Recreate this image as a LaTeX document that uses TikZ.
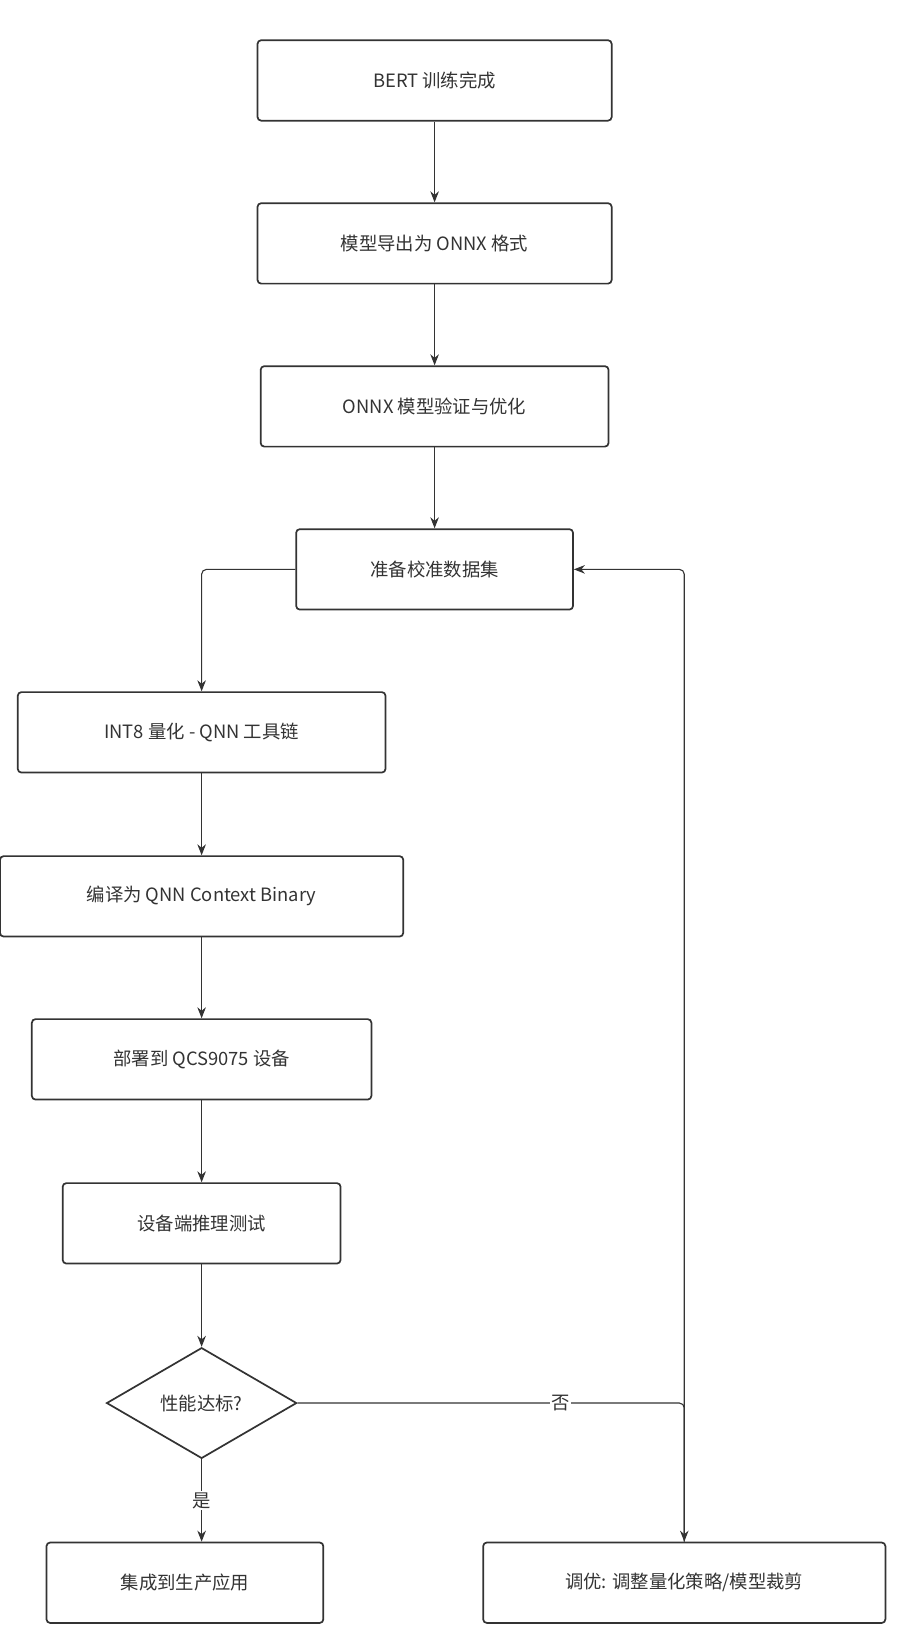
\documentclass[tikz,border=0pt]{standalone}
\usepackage{fontspec}
\setmainfont{Noto Sans CJK SC}
\usetikzlibrary{shapes.geometric,arrows.meta,positioning}
\definecolor{linegray}{HTML}{333333}
\begin{document}
\begin{tikzpicture}[x=0.03cm,y=-0.03cm,
  box/.style={draw=linegray, line width=1.4pt, rounded corners=3pt, minimum height=2.31cm, text=linegray, font=\fontsize{15}{18}\selectfont},
  decision/.style={draw=linegray, line width=1.4pt, diamond, aspect=1.72, minimum width=5.46cm, minimum height=3.18cm, inner sep=0pt, text=linegray, font=\fontsize{15}{18}\selectfont},
  flow/.style={draw=linegray, line width=0.9pt, rounded corners=4pt, -{Stealth[length=9pt,width=7pt]}},
  lbl/.style={fill=white, text=linegray, inner sep=1pt, font=\fontsize{15}{18}\selectfont}]
  \node[box, minimum width=10.17cm] (bert) at (416,77) {BERT 训练完成};
  \node[box, minimum width=10.17cm] (export) at (416,233) {模型导出为 ONNX 格式};
  \node[box, minimum width=9.99cm] (verify) at (416,389) {ONNX 模型验证与优化};
  \node[box, minimum width=7.95cm] (calib) at (416,545) {准备校准数据集};
  \node[box, minimum width=10.56cm] (quant) at (193,701) {INT8 量化 - QNN 工具链};
  \node[box, minimum width=11.58cm] (compile) at (193,858) {编译为 QNN Context Binary};
  \node[box, minimum width=9.75cm] (deploy) at (193,1014) {部署到 QCS9075 设备};
  \node[box, minimum width=7.98cm] (test) at (193,1171) {设备端推理测试};
  \node[decision] (check) at (193,1343) {性能达标?};
  \node[box, minimum width=7.95cm] (prod) at (177,1515) {集成到生产应用};
  \node[box, minimum width=11.55cm] (tune) at (655,1515) {调优: 调整量化策略/模型裁剪};
  \coordinate (calibleft) at (193,545);
  \coordinate (tuneup) at (655,545);
  \coordinate (nocorner) at (655,1343);

  \draw[flow] (bert) -- (export);
  \draw[flow] (export) -- (verify);
  \draw[flow] (verify) -- (calib);
  \draw[flow] (calib.west) -- (calibleft) -- (quant);
  \draw[flow] (quant) -- (compile);
  \draw[flow] (compile) -- (deploy);
  \draw[flow] (deploy) -- (test);
  \draw[flow] (test) -- (check);
  \draw[flow] (check.south) -- node[lbl] {是} (check.south |- prod.north);
  \draw[flow] (check.east) -- node[lbl, pos=0.68] {否} (nocorner) -- (tune.north);
  \draw[flow] (tune.north) -- (tuneup) -- (calib.east);
  \pgfresetboundingbox
  \useasboundingbox (0,0) rectangle (878,1566);
\end{tikzpicture}
\end{document}
